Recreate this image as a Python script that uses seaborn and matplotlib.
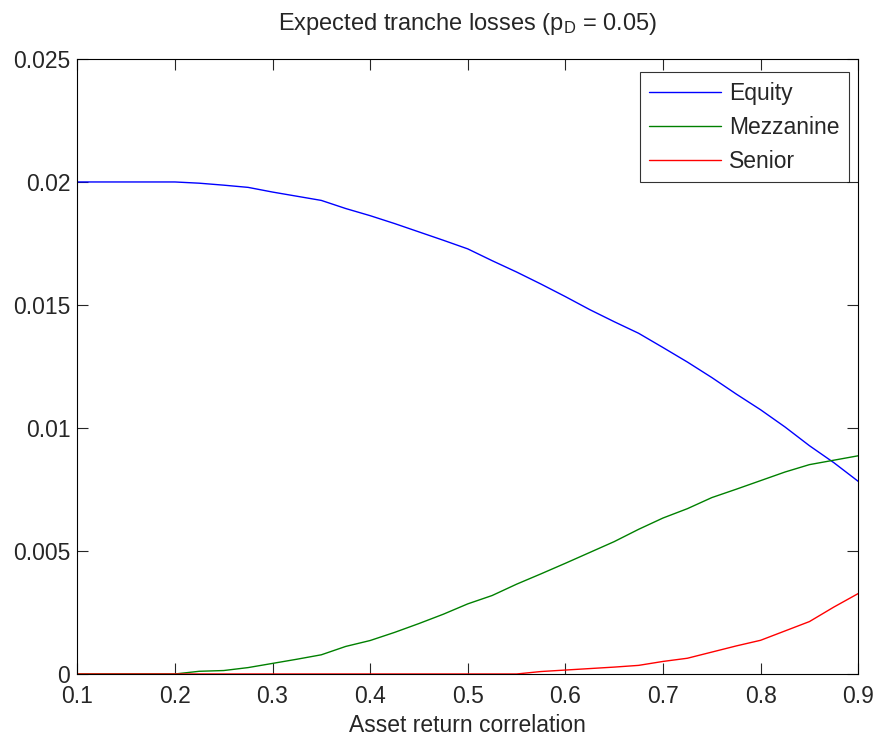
import numpy as np
import pandas as pd
import matplotlib
matplotlib.use("Agg")
import matplotlib.pyplot as plt
import seaborn as sns

rho = [0.100, 0.125, 0.150, 0.175, 0.200, 0.225, 0.250, 0.275, 0.300, 0.325, 0.350,
       0.375, 0.400, 0.425, 0.450, 0.475, 0.500, 0.525, 0.550, 0.575, 0.600, 0.625,
       0.650, 0.675, 0.700, 0.725, 0.750, 0.775, 0.800, 0.825, 0.850, 0.875, 0.900]
equity = [0.02000, 0.02000, 0.02000, 0.02000, 0.02000, 0.01995, 0.01987, 0.01978,
          0.01959, 0.01942, 0.01925, 0.01892, 0.01863, 0.01831, 0.01797, 0.01763,
          0.01728, 0.01680, 0.01634, 0.01585, 0.01534, 0.01481, 0.01432, 0.01385,
          0.01327, 0.01268, 0.01205, 0.01138, 0.01074, 0.01004, 0.00928, 0.00859,
          0.00783]
mezzanine = [0.0, 0.0, 0.0, 0.0, 0.0, 0.00011, 0.00014, 0.00026, 0.00043, 0.00060,
             0.00078, 0.00112, 0.00136, 0.00169, 0.00205, 0.00243, 0.00285, 0.00319,
             0.00365, 0.00407, 0.00450, 0.00494, 0.00538, 0.00588, 0.00634, 0.00672,
             0.00717, 0.00751, 0.00786, 0.00821, 0.00851, 0.00869, 0.00887]
senior = [0.0, 0.0, 0.0, 0.0, 0.0, 0.0, 0.0, 0.0, 0.0, 0.0, 0.0, 0.0, 0.0, 0.0, 0.0,
          0.0, 0.0, 0.0, 0.0, 0.00010, 0.00016, 0.00022, 0.00028, 0.00035, 0.00051,
          0.00064, 0.00089, 0.00114, 0.00137, 0.00175, 0.00213, 0.00272, 0.00327]
series_names = ["Equity", "Mezzanine", "Senior"]
colors = ["#0000ff", "#008000", "#ff0000"]
x_ticks = [0.1, 0.2, 0.3, 0.4, 0.5, 0.6, 0.7, 0.8, 0.9]
y_ticks = [0, 0.005, 0.01, 0.015, 0.02, 0.025]
y_ticklabels = ["0", "0.005", "0.01", "0.015", "0.02", "0.025"]

df = pd.DataFrame({
    "rho": rho * 3,
    "loss": equity + mezzanine + senior,
    "tranche": sum([[n] * len(rho) for n in series_names], []),
})

sns.set_style("ticks")
plt.rcParams["font.family"] = ["Liberation Sans", "DejaVu Sans"]
plt.rcParams["mathtext.default"] = "regular"

FS = 16.5
fig = plt.figure(figsize=(8.77, 7.37), dpi=100)
ax = fig.add_axes([0.0881, 0.0855, 0.8905, 0.8345])
sns.lineplot(data=df, x="rho", y="loss", hue="tranche", palette=colors,
             linewidth=1.0, ax=ax, legend=True)
ax.set_xlim(0.1, 0.9)
ax.set_ylim(0, 0.025)
ax.set_xticks(x_ticks)
ax.set_xticklabels([f"{t:g}" for t in x_ticks])
ax.set_yticks(y_ticks)
ax.set_yticklabels(y_ticklabels)
ax.tick_params(direction="in", top=True, right=True, labelsize=FS, length=8,
               width=0.8)
ax.tick_params(axis="x", pad=8)
ax.tick_params(axis="y", pad=5)
for s in ax.spines.values():
    s.set_visible(True)
    s.set_linewidth(0.8)
    s.set_color("black")
ax.set_xlabel("Asset return correlation", fontsize=FS, labelpad=4)
ax.set_ylabel("")
ax.set_title("Expected tranche losses (p$_D$ = 0.05)", fontsize=17, pad=21)
leg = ax.legend(loc="upper right", bbox_to_anchor=(0.9885, 0.9784),
                borderaxespad=0, fontsize=FS, frameon=True, fancybox=False,
                edgecolor="black", handlelength=3.13, handletextpad=0.38,
                labelspacing=0.48, borderpad=0.41)
leg.get_frame().set_linewidth(0.8)
fig.savefig("out.png", dpi=100)
